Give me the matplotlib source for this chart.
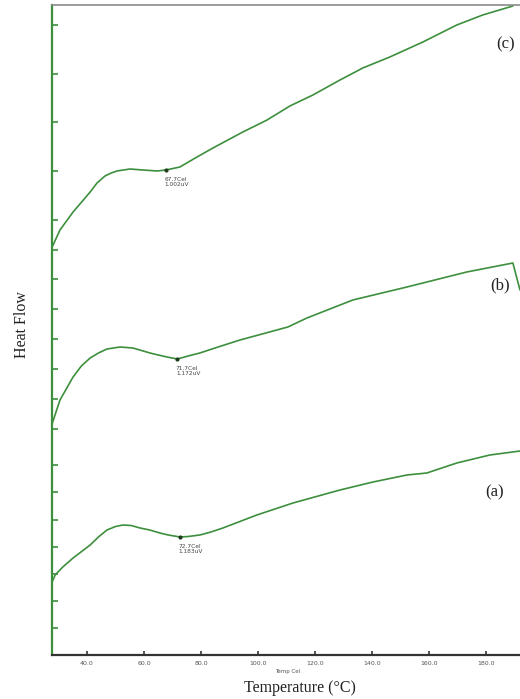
import matplotlib.pyplot as plt

# DSC traces, temperature in degC, heat flow in arbitrary (offset) units
temp_a = [27.6, 28.8, 31.5, 35.1, 41.1, 44.0, 47.0, 50.0, 52.6, 55.5, 58.6,
          62.0, 65.6, 68.5, 72.7, 75.5, 79.6, 83.5, 87.7, 99.6, 112.3, 128.8,
          140.4, 152.3, 159.3, 169.8, 181.4, 192.0]
flow_a = [72, 80, 88, 97, 110, 118, 125, 128.5, 130, 129.5, 127,
          125, 122, 120, 118, 118.5, 120, 123, 127, 140, 152, 165,
          173, 180, 182, 192, 200, 204]

temp_b = [27.6, 30.5, 35.1, 38.0, 41.1, 44.0, 47.0, 51.6, 56.1, 62.1, 65.0,
          68.1, 71.7, 75.5, 79.6, 86.0, 93.7, 110.5, 117.2, 133.3, 152.3,
          173.3, 189.5, 192.0]
flow_b = [230, 255, 278, 289, 297, 302, 306, 308, 307, 302, 300,
          298, 296, 299, 302, 308, 315, 328, 337, 355, 368,
          383, 392, 365]

temp_c = [27.6, 30.5, 35.1, 41.1, 43.5, 46.3, 48.5, 50.5, 55.1, 59.6, 64.6,
          67.7, 72.6, 78.0, 84.2, 94.7, 103.2, 111.2, 119.3, 128.8, 136.8,
          146.3, 157.9, 169.8, 178.9, 189.5]
flow_c = [407, 425, 443, 463, 472, 479, 482, 484, 486, 485, 484,
          485, 488, 497, 507, 523, 535, 549, 560, 575, 587,
          598, 613, 630, 640, 649]

# picked points (temperature, signal text)
peaks = [(72.7, "1.183uV"), (71.7, "1.172uV"), (67.7, "1.002uV")]
curve_names = ["(a)", "(b)", "(c)"]

yticks = [630, 581, 533, 484, 435, 405, 376, 346, 316, 286, 256, 226,
          190, 163, 135, 108, 81, 54, 27]
xticks = [40, 60, 80, 100, 120, 140, 160, 180]

GREEN = "#3d8f3d"

fig = plt.figure(figsize=(5.2, 6.99), dpi=100)
ax = fig.add_axes([52 / 520, 44 / 699, 1 - 52 / 520, 650 / 699])
ax.set_xlim(27.7, 192)
ax.set_ylim(0, 650)

curves = [(temp_a, flow_a), (temp_b, flow_b), (temp_c, flow_c)]
for (t, f), (pk, sig) in zip(curves, peaks):
    ax.plot(t, f, color=GREEN, lw=1.2, solid_joinstyle="round",
            solid_capstyle="round")
    # marker on the curve at the picked temperature
    fy = f[t.index(pk)]
    ax.plot(pk, fy, "o", ms=2, color="#1e3a1e", zorder=5)
    ax.annotate(f"{pk}Cel\n{sig}", (pk, fy), xytext=(-1, -5),
                textcoords="offset points", ha="left", va="top",
                fontsize=4.2, color="#444444", linespacing=1.1)

name_pos = [(183, 163), (185, 370), (187, 611)]
for name, (x, y) in zip(curve_names, name_pos):
    ax.text(x, y, name, fontsize=12, family="Liberation Serif",
            color="#222222", ha="center", va="center")

ax.spines["right"].set_visible(False)
ax.spines["left"].set_color(GREEN)
ax.spines["left"].set_linewidth(1.6)
ax.spines["bottom"].set_color("#333333")
ax.spines["bottom"].set_linewidth(1.6)
ax.spines["top"].set_color("#8a8a8a")
ax.spines["top"].set_linewidth(1.2)

ax.set_yticks(yticks)
ax.set_yticklabels([])
ax.tick_params(axis="y", direction="in", length=4.5, width=1.2, color=GREEN)
ax.set_xticks(xticks)
ax.set_xticklabels([f"{v:.1f}" for v in xticks])
ax.tick_params(axis="x", direction="in", length=3, width=1.2, color="#333333",
               labelsize=4.5, labelcolor="#555555", pad=4)

fig.text(288 / 520, 1 - 672 / 699, "Temp Cel", fontsize=4, color="#555555",
         ha="center", va="center")
fig.text(300 / 520, 1 - 688 / 699, "Temperature (°C)", fontsize=11.5,
         family="Liberation Serif", color="#222222", ha="center", va="center")
fig.text(22 / 520, 1 - 325 / 699, "Heat Flow", fontsize=11.5, rotation=90,
         family="Liberation Serif", color="#222222", ha="center", va="center")

fig.savefig("out.png", dpi=100)
